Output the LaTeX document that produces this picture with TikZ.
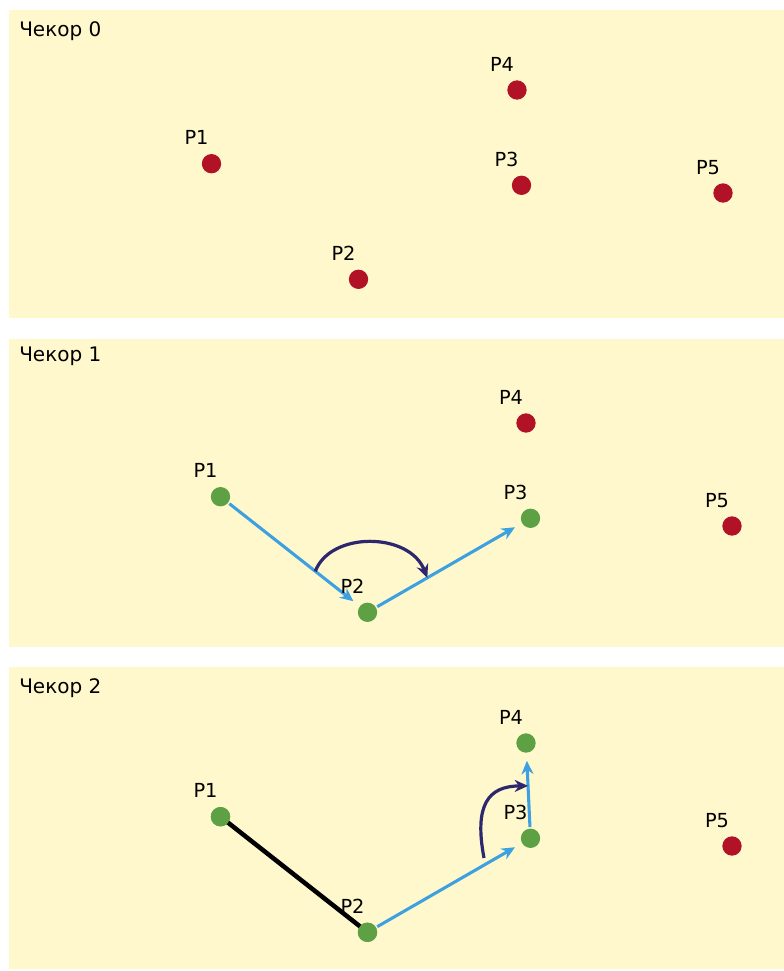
\documentclass[tikz,border=0pt]{standalone}
\usepackage{fontspec}
\setmainfont{DejaVu Sans}
\usetikzlibrary{arrows.meta,calc}
\definecolor{bgyellow}{RGB}{255,248,204}
\definecolor{dotred}{RGB}{178,18,38}
\definecolor{dotgreen}{RGB}{94,160,68}
\definecolor{arrblue}{RGB}{60,160,225}
\definecolor{arrnavy}{RGB}{45,40,110}
\tikzset{
  panel/.style={fill=bgyellow, draw=none},
  reddot/.style={circle, fill=dotred, inner sep=0pt, minimum size=14.5pt},
  greendot/.style={circle, fill=dotgreen, inner sep=0pt, minimum size=14.5pt},
  lab/.style={font=\fontsize{14.5pt}{16pt}\selectfont, inner sep=0pt, anchor=base},
  ttl/.style={font=\fontsize{15pt}{17pt}\selectfont, inner sep=0pt, anchor=base west},
  bluearr/.style={draw=arrblue, line width=2.3pt, -{Stealth[length=10pt,width=9pt]}, shorten <=1pt, shorten >=6pt},
  navyarr/.style={draw=arrnavy, line width=2.4pt, -{Stealth[length=10pt,width=9pt]}},
  blackline/.style={draw=black, line width=3.4pt}
}
\begin{document}
\begin{tikzpicture}[x=0.75pt,y=-0.75pt]
\useasboundingbox (0,0) rectangle (784,971);
\fill[white] (0,0) rectangle (784,971);
% panels
\path[panel] (9,10) rectangle (784,318);
\path[panel] (9,339) rectangle (784,647);
\path[panel] (9,667) rectangle (784,969);
% titles
\node[ttl] (t0) at (19,36) {Чекор 0};
\node[ttl] (t1) at (19,361) {Чекор 1};
\node[ttl] (t2) at (19,693) {Чекор 2};

% ---------- panel 0 ----------
\node[reddot] (a1) at (211.5,163.7) {};
\node[reddot] (a2) at (358.5,279.3) {};
\node[reddot] (a3) at (521.5,185.3) {};
\node[reddot] (a4) at (517,90) {};
\node[reddot] (a5) at (723,193) {};
\path (a1) ++(-15,-19) node[lab] (la1) {P1};
\path (a2) ++(-15,-19) node[lab] (la2) {P2};
\path (a3) ++(-15,-19) node[lab] (la3) {P3};
\path (a4) ++(-15,-19) node[lab] (la4) {P4};
\path (a5) ++(-15,-19) node[lab] (la5) {P5};

% ---------- panel 1 ----------
\begin{scope}[shift={(9,333)}]
\node[greendot] (b1) at (211.5,163.7) {};
\node[greendot] (b2) at (358.5,279.3) {};
\node[greendot] (b3) at (521.5,185.3) {};
\node[reddot] (b4) at (517,90) {};
\node[reddot] (b5) at (723,193) {};
\end{scope}
\draw[bluearr] (b1) -- (b2);
\draw[bluearr] (b2) -- (b3);
\coordinate (bs) at ($(b1.center)!0.645!(b2.center)$);
\coordinate (be) at ($(b2.center)!0.367!(b3.center)$);
\draw[navyarr] (bs) .. controls ($(bs)+(15,-40)$) and ($(be)+(-18,-46)$) .. (be);
\path (b1) ++(-15,-19) node[lab] (lb1) {P1};
\path (b2) ++(-15,-19) node[lab] (lb2) {P2};
\path (b3) ++(-15,-19) node[lab] (lb3) {P3};
\path (b4) ++(-15,-19) node[lab] (lb4) {P4};
\path (b5) ++(-15,-19) node[lab] (lb5) {P5};

% ---------- panel 2 ----------
\begin{scope}[shift={(9,653)}]
\node[greendot] (c1) at (211.5,163.7) {};
\node[greendot] (c2) at (358.5,279.3) {};
\node[greendot] (c3) at (521.5,185.3) {};
\node[greendot] (c4) at (517,90) {};
\node[reddot] (c5) at (723,193) {};
\end{scope}
\draw[blackline] (c1.center) -- (c2.center);
\node[greendot] (c1t) at (c1) {};
\node[greendot] (c2t) at (c2) {};
\draw[bluearr] (c2) -- (c3);
\draw[bluearr] (c3) -- (c4);
\coordinate (cs) at (484,858);
\coordinate (ce) at ($(c3.center)!0.55!(c4.center)$);
\draw[navyarr] (cs) .. controls (474,805) and (488,786) .. (ce);
\path (c1) ++(-15,-19) node[lab] (lc1) {P1};
\path (c2) ++(-15,-19) node[lab] (lc2) {P2};
\path (c3) ++(-15,-19) node[lab] (lc3) {P3};
\path (c4) ++(-15,-19) node[lab] (lc4) {P4};
\path (c5) ++(-15,-19) node[lab] (lc5) {P5};
\end{tikzpicture}
\end{document}
